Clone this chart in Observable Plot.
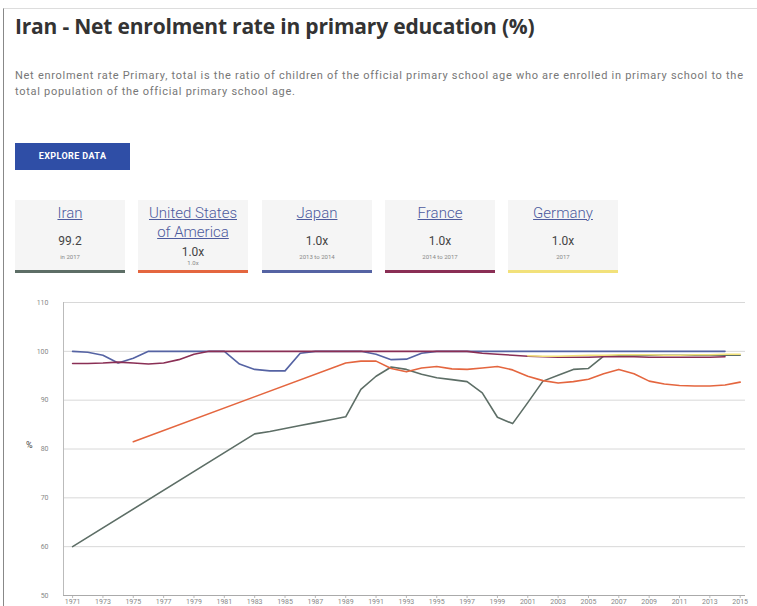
<!DOCTYPE html>
<html><head><meta charset="utf-8">
<script src="https://cdn.jsdelivr.net/npm/d3@7"></script>
<script src="https://cdn.jsdelivr.net/npm/@observablehq/plot@0.6"></script>
<style>
body{margin:0;width:757px;height:606px;overflow:hidden;background:#fff;font-family:Roboto,"Open Sans",sans-serif;position:relative}
#frame{position:absolute;left:3px;top:8px;width:760px;height:600px;border-left:1px solid #888;border-top:1px solid #ddd}
#title{position:absolute;left:15px;top:12px;font-size:21px;font-weight:bold;color:#333;letter-spacing:-0.2px;font-family:"Open Sans",sans-serif}
#sub{position:absolute;left:15px;top:68px;font-size:11px;letter-spacing:0.72px;line-height:16px;color:#777;white-space:nowrap}
#btn{position:absolute;left:15px;top:143px;width:115px;height:27px;background:#2f4ea6;color:#fff;font-size:9px;letter-spacing:0.4px;font-weight:bold;line-height:27px;text-align:center}
.card{position:absolute;top:200px;width:110px;height:70px;background:#f5f5f5;text-align:center;border-bottom:3px solid #999}
.card .n{position:absolute;left:0;right:0;top:4px;font-size:15px;font-weight:300;color:#4d5b9e;text-decoration:underline;line-height:19px}
.card .v{position:absolute;left:0;right:0;top:34px;font-size:12px;color:#444}
.card .s{position:absolute;left:0;right:0;top:53px;font-size:6px;color:#888}
#chart{position:absolute;left:0;top:290px}
#ylab{position:absolute;left:26px;top:440px;font-size:9px;color:#444}
</style></head>
<body>
<div id="frame"></div>
<div id="title">Iran - Net enrolment rate in primary education (%)</div>
<div id="sub">Net enrolment rate Primary, total is the ratio of children of the official primary school age who are enrolled in primary school to the<br>total population of the official primary school age.</div>
<div id="btn">EXPLORE DATA</div>
<div id="cards"></div>
<div id="chart"></div>
<div id="ylab">%</div>
<script>
const countries = ["Iran","United States of America","Japan","France","Germany"];
const colors = ["#5d6e66","#e4663f","#5563a3","#8a2f55","#f2e17a"];
const cardValues = ["99.2","1.0x","1.0x","1.0x","1.0x"];
const cardNotes = ["in 2017","1.0x","2013 to 2014","2014 to 2017","2017"];
const cardLefts = [15,138,262,385,508];

const iranYears = [1971,1983,1984,1985,1986,1987,1988,1989,1990,1991,1992,1993,1994,1995,1996,1997,1998,1999,2000,2001,2002,2003,2004,2005,2006,2007,2008,2009,2010,2011,2012,2013,2014,2015];
const iranValues = [60,83.1,83.6,84.2,84.8,85.4,86.0,86.6,92.2,94.9,96.8,96.3,95.3,94.6,94.2,93.8,91.5,86.5,85.2,89.5,93.9,95.1,96.3,96.5,99.0,99.1,99.1,99.2,99.2,99.2,99.2,99.2,99.2,99.2];

const usaYears = [1975,1989,1990,1991,1992,1993,1994,1995,1996,1997,1998,1999,2000,2001,2002,2003,2004,2005,2006,2007,2008,2009,2010,2011,2012,2013,2014,2015];
const usaValues = [81.5,97.6,98.0,98.0,96.5,95.8,96.6,96.9,96.4,96.3,96.6,96.9,96.2,94.9,94.0,93.5,93.8,94.3,95.4,96.3,95.4,93.9,93.3,93.0,92.9,92.9,93.1,93.7];

const japanYears = [1971,1972,1973,1974,1975,1976,1977,1978,1979,1980,1981,1982,1983,1984,1985,1986,1987,1988,1989,1990,1991,1992,1993,1994,1995,1996,1997,1998,1999,2000,2001,2002,2003,2004,2005,2006,2007,2008,2009,2010,2011,2012,2013,2014];
const japanValues = [100,99.8,99.2,97.6,98.6,100,100,100,100,100,100,97.4,96.3,96.0,96.0,99.6,100,100,100,100,99.4,98.3,98.4,99.6,100,100,100,100,100,100,100,100,100,100,100,100,100,100,100,100,100,100,100,100];

const franceYears = [1971,1972,1973,1974,1975,1976,1977,1978,1979,1980,1981,1982,1983,1984,1985,1986,1987,1988,1989,1990,1991,1992,1993,1994,1995,1996,1997,1998,1999,2000,2001,2002,2003,2004,2005,2006,2007,2008,2009,2010,2011,2012,2013,2014];
const franceValues = [97.5,97.5,97.6,97.8,97.6,97.4,97.6,98.3,99.4,100,100,100,100,100,100,100,100,100,100,100,100,100,100,100,100,100,100,99.6,99.4,99.2,99.0,98.9,98.8,98.8,98.8,98.9,98.9,98.9,98.8,98.8,98.8,98.8,98.8,98.9];

const germanyYears = [2001,2002,2003,2004,2005,2006,2007,2008,2009,2010,2011,2012,2013,2014,2015];
const germanyValues = [99.1,99.0,99.0,99.1,99.2,99.2,99.3,99.3,99.3,99.2,99.2,99.3,99.3,99.4,99.4];

const yTicks = [50,60,70,80,90,100,110];
const xTicks = d3.range(1971, 2016, 2);

// cards
const cardsEl = document.getElementById("cards");
countries.forEach((c,i)=>{
  const d = document.createElement("div");
  d.className="card";
  d.style.left = cardLefts[i]+"px";
  d.style.borderBottomColor = colors[i];
  const isUSA = c === "United States of America";
  const name = isUSA ? "United States<br>of America" : c;
  const vTop = isUSA ? 'style="top:45px"' : '';
  const sTop = isUSA ? 'style="top:59px"' : '';
  d.innerHTML = `<div class="v" ${vTop}>${cardValues[i]}</div><div class="s" ${sTop}>${cardNotes[i]}</div><div class="n">${name}</div>`;
  cardsEl.appendChild(d);
});

const series = [
  [countries[0], iranYears, iranValues],
  [countries[1], usaYears, usaValues],
  [countries[2], japanYears, japanValues],
  [countries[3], franceYears, franceValues],
  [countries[4], germanyYears, germanyValues]
];
const data = series.flatMap(([c, ys, vs]) => ys.map((y,i)=>({country:c, year:y, value:vs[i]})));

const chart = Plot.plot({
  width: 757, height: 316,
  marginLeft: 63, marginRight: 12, marginTop: 12, marginBottom: 11,
  style: {fontFamily: "Roboto, sans-serif", fontSize: "7px", color: "#888", background: "transparent"},
  x: {domain: [1970.4, 2015.35], label: null},
  y: {domain: [50, 110], label: null},
  color: {domain: countries, range: colors},
  marks: [
    Plot.gridY(yTicks, {stroke: "#d8d8d8", strokeOpacity: 1, strokeWidth: 1}),
    Plot.axisY({ticks: yTicks, tickSize: 0, tickPadding: 15, fill: "#888", label: null}),
    Plot.axisX({ticks: xTicks, tickFormat: d => String(d), tickSize: 3, tickPadding: 1, fill: "#888", stroke: "#bbb", label: null}),
    Plot.ruleX([1970.4], {stroke: "#bbb"}),
    Plot.ruleY([50], {stroke: "#aaa"}),
    Plot.line(data, {x: "year", y: "value", z: "country", stroke: "country", strokeWidth: 1.6})
  ]
});
document.getElementById("chart").appendChild(chart);
</script>
</body></html>
